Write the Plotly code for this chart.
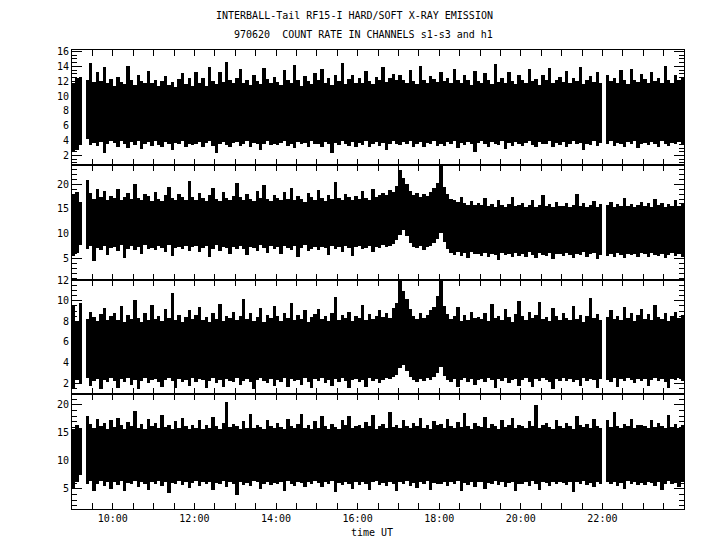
import plotly.graph_objects as go
from plotly.subplots import make_subplots

# ---------------- data (5-minute bins from 09:00 to 24:00 UT, envelope lo/hi) -------------
start_hour = 9.0
bin_minutes = 5

s1_hi = [
    11.8, 12.4, 12.6, None, 12.2, 14.5, 11.9, 13.2, 12.0, 13.9, 11.7, 12.3,
    11.4, 12.6, 11.9, 11.6, 14.0, 12.1, 11.5, 12.8, 12.0, 11.7, 13.4, 11.8,
    12.2, 11.4, 12.0, 12.7, 11.5, 11.9, 11.2, 12.3, 13.1, 11.6, 12.4, 11.3,
    13.2, 11.8, 12.5, 11.4, 13.9, 12.0, 11.6, 13.3, 11.9, 14.6, 12.1, 11.7,
    12.4, 13.6, 11.8, 12.2, 11.5, 12.9, 12.0, 11.6, 13.8, 12.3, 11.8, 12.6,
    11.9, 11.5, 13.5, 12.1, 11.7, 14.2, 12.2, 11.4, 12.7, 12.0, 11.6, 13.1,
    12.1, 13.7, 11.8, 12.4, 11.5, 12.8, 12.0, 14.4, 11.6, 12.3, 12.9, 11.8,
    12.4, 11.7, 13.4, 12.0, 11.6, 12.6, 12.2, 13.9, 11.9, 12.5, 13.0, 12.1,
    12.8, 12.2, 11.8, 13.5, 12.0, 11.6, 14.0, 12.1, 11.7, 12.7, 12.3, 11.9,
    13.3, 12.0, 12.5, 11.7, 13.7, 12.1, 11.8, 12.9, 12.2, 11.5, 13.4, 12.0,
    11.7, 13.1, 12.2, 11.6, 14.3, 11.9, 12.4, 11.8, 13.3, 12.0, 11.6, 12.8,
    12.1, 11.7, 13.6, 12.0, 12.3, 11.5, 12.9, 12.1, 13.8, 11.8, 12.2, 12.6,
    11.9, 13.4, 11.7, 12.4, 12.0, 13.9, 11.6, 12.2, 12.7, 11.9, 13.2, 11.8,
    None, 12.8, 12.0, 12.5, 11.8, 13.5, 12.1, 11.6, 13.7, 12.2, 11.9, 13.0,
    12.3, 11.7, 13.3, 12.0, 12.5, 11.8, 14.0, 12.1, 11.7, 12.8, 12.2, 12.4,
]
s1_lo = [
    2.6, 2.8, 3.4, None, 4.2, 3.4, 3.7, 3.3, 3.8, 2.4, 3.6, 3.9,
    3.7, 3.2, 3.9, 3.5, 3.0, 3.8, 3.4, 3.9, 2.9, 3.6, 3.8, 3.3,
    3.9, 3.4, 3.1, 3.8, 3.6, 2.8, 3.7, 3.5, 3.9, 3.2, 3.6, 3.4,
    3.5, 3.8, 3.2, 3.7, 3.9, 3.3, 2.3, 3.6, 3.8, 3.4, 3.1, 3.7,
    3.8, 3.3, 3.6, 3.9, 3.2, 3.7, 3.5, 2.8, 3.6, 3.9, 3.4, 3.6,
    3.4, 3.7, 3.9, 3.3, 3.6, 3.0, 3.8, 3.5, 3.7, 3.2, 3.9, 3.5,
    3.6, 3.2, 3.8, 3.5, 2.4, 3.7, 3.4, 3.9, 3.6, 3.3, 3.8, 3.1,
    3.7, 3.4, 3.9, 3.2, 3.6, 3.8, 3.3, 3.7, 2.7, 3.5, 3.9, 3.6,
    3.4, 3.8, 3.5, 3.9, 3.2, 3.6, 3.8, 3.1, 3.7, 3.5, 3.9, 3.3,
    3.6, 3.3, 3.8, 3.5, 3.9, 3.0, 3.7, 3.4, 3.8, 3.6, 2.5, 3.7,
    3.9, 3.5, 3.2, 3.8, 3.6, 3.4, 3.9, 2.9, 3.7, 3.3, 3.8, 3.5,
    3.3, 3.7, 3.9, 3.4, 3.1, 3.8, 3.6, 3.5, 3.9, 3.2, 3.7, 3.4,
    3.8, 3.2, 3.6, 3.9, 3.5, 3.7, 2.8, 3.6, 3.4, 3.9, 3.3, 3.7,
    None, 3.5, 3.9, 3.3, 3.7, 3.6, 3.2, 3.8, 3.5, 3.9, 3.0, 3.6,
    3.7, 3.4, 3.8, 3.5, 3.2, 3.9, 3.6, 3.3, 3.7, 3.5, 3.8, 3.4,
]

s2_hi = [
    17.8, 18.5, 16.5, None, 20.8, 18.2, 17.0, 19.1, 17.4, 18.6, 16.9, 17.6,
    17.2, 19.0, 16.8, 17.5, 18.3, 17.0, 20.1, 17.3, 16.9, 18.0, 17.6, 16.7,
    18.4, 17.1, 16.6, 17.9, 19.5, 17.2, 16.8, 18.1, 17.4, 16.9, 20.6, 17.5,
    16.9, 18.2, 17.3, 16.7, 17.8, 19.2, 17.0, 16.6, 18.5, 17.2, 16.8, 17.7,
    20.2, 17.4, 16.9, 18.0, 17.1, 16.7, 18.7, 17.3, 19.8, 17.0, 16.6, 17.9,
    17.3, 16.8, 18.4, 17.1, 19.3, 16.9, 17.6, 17.0, 16.5, 18.2, 17.4, 16.8,
    18.9, 17.2, 16.7, 17.8, 17.0, 20.4, 17.3, 16.8, 18.1, 17.5, 16.9, 17.6,
    17.1, 18.6, 17.3, 16.9, 19.0, 17.4, 17.8, 18.3, 17.9, 18.8, 18.4, 19.6,
    22.9, 21.3, 20.1, 18.6, 17.9, 18.2, 17.5, 18.0, 17.6, 18.4, 19.2, 20.3,
    23.8, 19.5, 18.0, 17.1, 16.8, 16.4, 17.5, 16.2, 15.9, 16.6, 15.8, 16.3,
    15.9, 17.2, 15.7, 16.1, 15.5, 16.8, 15.8, 15.4, 16.0, 17.5, 15.6, 15.9,
    16.2, 15.5, 15.8, 16.9, 15.4, 15.9, 17.8, 15.6, 16.1, 15.5, 16.4, 15.7,
    15.6, 16.3, 15.4, 15.9, 18.0, 15.7, 16.2, 15.5, 15.8, 16.6, 15.4, 16.0,
    None, 15.8, 16.4, 15.5, 16.0, 15.6, 17.2, 15.7, 16.1, 15.4, 15.9, 16.5,
    15.6, 16.2, 15.5, 17.0, 15.8, 16.3, 15.5, 16.0, 15.7, 16.8, 15.6, 16.1,
]
s2_lo = [
    5.5, 6.2, 7.8, None, 6.9, 7.5, 4.5, 7.2, 6.8, 7.6, 5.8, 7.1,
    7.4, 6.6, 7.8, 5.2, 7.0, 7.5, 6.7, 7.3, 5.9, 7.7, 6.9, 7.2,
    6.8, 7.5, 7.1, 6.4, 7.8, 5.6, 7.2, 7.4, 6.9, 7.6, 6.5, 7.3,
    7.6, 6.3, 7.2, 7.5, 5.4, 7.0, 7.7, 6.6, 7.3, 7.1, 5.9, 7.4,
    6.9, 7.6, 7.0, 5.7, 7.4, 7.2, 6.5, 7.8, 7.1, 6.2, 7.5, 7.0,
    7.3, 6.0, 7.6, 7.2, 6.8, 7.5, 5.3, 7.1, 7.7, 6.6, 7.0, 7.4,
    6.7, 7.4, 7.1, 5.8, 7.6, 7.0, 7.3, 6.4, 7.5, 7.2, 5.5, 7.3,
    7.5, 6.9, 7.2, 7.6, 6.3, 7.4, 7.1, 7.7, 7.3, 7.6, 8.0, 8.8,
    9.8, 10.8, 9.6, 8.2, 7.4, 7.1, 7.5, 6.8, 7.3, 7.6, 8.1, 9.0,
    10.3, 8.4, 6.9, 6.2, 5.8, 6.4, 5.5, 6.1, 5.2, 6.3, 5.9, 6.0,
    5.6, 6.2, 5.3, 6.0, 5.8, 4.8, 6.1, 5.7, 5.9, 5.4, 6.2, 5.5,
    6.0, 5.4, 6.3, 5.7, 5.1, 6.1, 5.8, 5.5, 6.2, 4.9, 5.9, 6.0,
    5.5, 6.1, 5.8, 5.2, 6.0, 5.7, 6.3, 5.4, 5.9, 6.1, 5.0, 5.8,
    None, 5.6, 6.0, 5.4, 6.2, 5.8, 5.1, 6.0, 5.7, 5.9, 5.3, 6.1,
    5.9, 5.3, 6.1, 5.7, 5.5, 6.0, 5.2, 5.8, 6.2, 5.6, 5.9, 5.4,
]

s3_hi = [
    9.6, 8.0, 9.8, None, 8.3, 9.0, 8.5, 8.1, 8.8, 9.3, 8.2, 8.6,
    8.9, 8.2, 9.5, 8.0, 8.7, 8.3, 10.1, 8.4, 8.0, 8.9, 8.2, 9.6,
    8.3, 8.6, 8.1, 9.2, 8.4, 10.8, 8.2, 8.7, 8.0, 8.5, 9.1, 8.3,
    8.7, 9.4, 8.2, 8.5, 8.0, 8.9, 8.3, 9.7, 8.1, 8.6, 8.4, 9.0,
    8.2, 8.6, 10.2, 8.3, 8.9, 8.1, 8.5, 9.3, 8.0, 8.7, 8.4, 9.5,
    8.6, 8.1, 8.9, 8.4, 9.8, 8.2, 8.7, 8.3, 9.1, 8.0, 8.5, 8.8,
    9.2, 8.3, 8.6, 8.1, 8.9, 10.4, 8.2, 8.7, 8.4, 9.0, 8.1, 8.6,
    8.4, 9.6, 8.2, 8.8, 8.3, 8.6, 9.1, 8.5, 8.9, 8.4, 9.3, 9.8,
    12.1, 11.0, 10.2, 9.2, 8.6, 8.3, 8.9, 8.4, 8.7, 9.1, 9.4, 10.5,
    12.0, 9.5, 8.8, 8.3, 8.6, 9.4, 8.1, 8.7, 8.2, 9.0, 8.4, 8.5,
    8.3, 8.9, 8.1, 9.7, 8.4, 8.6, 8.2, 9.2, 8.5, 8.0, 8.8, 10.0,
    8.6, 8.2, 9.0, 8.4, 8.7, 9.9, 8.3, 8.5, 8.1, 9.3, 8.6, 8.2,
    8.9, 8.4, 8.2, 9.5, 8.3, 8.7, 8.0, 8.6, 10.3, 8.4, 8.8, 8.2,
    None, 8.5, 9.1, 8.3, 8.6, 8.2, 9.4, 8.4, 8.9, 8.1, 8.7, 9.2,
    8.3, 8.8, 8.2, 9.6, 8.5, 8.3, 8.9, 8.1, 8.6, 9.0, 8.4, 8.7,
]
s3_lo = [
    1.6, 2.4, 2.0, None, 2.6, 1.8, 2.3, 2.5, 1.5, 2.4, 2.2, 2.6,
    2.3, 1.6, 2.5, 2.2, 2.6, 1.9, 2.4, 1.5, 2.3, 2.6, 2.1, 2.4,
    2.5, 2.2, 1.7, 2.4, 2.6, 2.3, 1.6, 2.5, 2.2, 2.4, 1.8, 2.6,
    2.2, 2.5, 2.4, 1.6, 2.3, 2.6, 2.1, 2.4, 1.7, 2.5, 2.3, 2.2,
    2.6, 1.9, 2.3, 2.5, 2.2, 1.5, 2.4, 2.6, 2.3, 2.1, 2.5, 1.8,
    2.4, 2.2, 2.6, 1.7, 2.5, 2.3, 2.4, 1.9, 2.6, 2.2, 1.6, 2.5,
    2.3, 2.6, 2.1, 2.4, 1.8, 2.5, 2.2, 2.6, 2.3, 1.6, 2.4, 2.5,
    2.2, 2.4, 1.7, 2.6, 2.3, 2.5, 2.1, 2.4, 2.6, 2.5, 2.7, 2.9,
    3.5, 3.8, 3.2, 2.7, 2.4, 2.2, 2.5, 2.3, 2.6, 2.4, 2.7, 3.0,
    3.6, 2.8, 2.4, 2.2, 2.5, 1.7, 2.4, 2.6, 2.2, 2.5, 1.9, 2.4,
    2.5, 2.2, 2.6, 2.4, 1.6, 2.5, 2.3, 2.6, 2.1, 2.4, 2.5, 1.8,
    2.4, 2.6, 2.2, 1.7, 2.5, 2.3, 2.6, 2.4, 2.2, 1.5, 2.5, 2.3,
    2.6, 2.3, 2.5, 2.2, 2.4, 1.8, 2.6, 2.3, 2.5, 2.4, 1.6, 2.5,
    None, 2.4, 2.2, 2.6, 1.7, 2.5, 2.3, 2.6, 2.4, 2.1, 2.5, 2.3,
    2.5, 1.8, 2.4, 2.6, 2.3, 2.5, 2.2, 1.6, 2.5, 2.4, 2.6, 2.3,
]

h1_hi = [
    15.6, 16.4, 15.9, None, 18.0, 16.6, 15.8, 17.4, 16.2, 16.8, 15.7, 17.3,
    16.0, 17.7, 16.3, 15.6, 16.9, 16.1, 18.8, 15.9, 16.5, 15.7, 17.5, 16.2,
    16.7, 15.8, 18.1, 16.0, 16.3, 15.6, 17.0, 15.9, 17.6, 16.2, 15.7, 16.4,
    15.9, 17.2, 15.7, 16.3, 15.8, 17.8, 16.1, 15.6, 16.7, 20.4, 16.0, 16.5,
    16.2, 15.7, 17.1, 15.9, 18.3, 15.8, 16.4, 16.0, 15.6, 17.3, 16.1, 15.8,
    16.8, 16.0, 15.6, 17.5, 16.2, 15.8, 16.6, 18.4, 15.9, 16.3, 15.7, 17.0,
    15.8, 17.9, 16.1, 15.7, 16.5, 16.0, 15.6, 17.2, 16.3, 18.0, 15.9, 16.2,
    16.3, 15.8, 16.9, 16.1, 18.2, 15.7, 16.2, 16.6, 15.9, 18.6, 16.0, 16.4,
    15.9, 17.3, 16.2, 15.8, 16.7, 16.1, 17.7, 15.9, 16.4, 15.7, 17.1, 16.3,
    16.6, 15.9, 17.4, 16.2, 15.8, 16.9, 16.0, 18.5, 16.1, 15.7, 16.8, 16.2,
    16.0, 17.8, 15.9, 16.5, 16.2, 15.7, 17.2, 16.0, 16.3, 17.6, 15.8, 16.4,
    16.2, 15.8, 17.0, 16.1, 20.0, 15.9, 16.3, 16.7, 16.0, 15.6, 17.3, 16.1,
    15.9, 16.8, 16.2, 15.7, 17.9, 16.3, 16.0, 16.5, 15.8, 17.4, 16.1, 15.9,
    None, 17.2, 16.0, 18.7, 16.2, 15.9, 16.6, 16.1, 17.5, 15.8, 16.3, 16.4,
    16.1, 15.8, 17.3, 16.0, 16.7, 16.2, 15.9, 18.1, 16.0, 16.5, 15.8, 16.3,
]
h1_lo = [
    5.0, 6.2, 7.4, None, 5.8, 6.3, 4.6, 5.9, 6.4, 5.5, 6.1, 4.9,
    6.2, 5.7, 6.4, 4.5, 6.0, 5.8, 6.3, 5.2, 6.1, 5.9, 4.8, 6.2,
    5.9, 6.3, 5.4, 6.1, 4.3, 6.0, 5.8, 6.4, 5.6, 6.2, 5.1, 6.0,
    6.3, 5.5, 6.1, 5.9, 6.2, 4.7, 6.0, 5.8, 6.3, 5.3, 6.1, 5.9,
    3.8, 6.2, 5.7, 6.0, 5.4, 6.3, 6.1, 4.9, 5.9, 6.2, 5.6, 6.0,
    5.8, 6.1, 4.6, 6.3, 5.9, 5.5, 6.2, 6.0, 5.2, 6.1, 5.8, 6.3,
    6.0, 5.3, 6.2, 5.9, 6.3, 4.4, 6.0, 5.7, 6.2, 5.9, 5.0, 6.1,
    5.7, 6.2, 5.9, 4.8, 6.1, 6.3, 5.6, 6.0, 5.4, 6.2, 5.9, 4.6,
    6.1, 5.8, 6.3, 5.5, 6.0, 5.1, 6.2, 5.9, 6.3, 4.7, 6.0, 5.8,
    5.9, 6.2, 5.4, 6.1, 5.8, 6.3, 4.5, 6.0, 5.7, 6.2, 5.3, 6.1,
    6.2, 4.9, 6.0, 5.8, 6.3, 5.6, 6.1, 5.2, 6.0, 6.2, 4.6, 5.9,
    5.8, 6.1, 5.5, 6.3, 5.9, 4.8, 6.2, 6.0, 5.4, 6.1, 5.8, 6.2,
    6.0, 5.6, 6.2, 4.4, 6.1, 5.9, 6.3, 5.7, 6.0, 5.3, 6.2, 5.8,
    None, 6.1, 5.8, 6.2, 5.5, 6.0, 4.9, 6.3, 5.9, 6.1, 5.6, 6.0,
    5.7, 6.2, 6.0, 5.4, 6.1, 4.7, 5.9, 6.3, 5.8, 6.0, 5.2, 6.1,
]

x_tick_values = [10, 12, 14, 16, 18, 20, 22]
x_tick_labels = ["10:00", "12:00", "14:00", "16:00", "18:00", "20:00", "22:00"]

title_line1 = "INTERBALL-Tail RF15-I HARD/SOFT X-RAY EMISSION"
title_line2 = "970620  COUNT RATE IN CHANNELS s1-s3 and h1"
x_title = "time UT"

panels = [
    (s1_hi, s1_lo),
    (s2_hi, s2_lo),
    (s3_hi, s3_lo),
    (h1_hi, h1_lo),
]

# ---------------- styling ------------------------------------------------------------
FONT = dict(family="DejaVu Sans Mono", size=10, color="black")
y_ranges = [[0.76, 16.2], [0.78, 23.9], [0.94, 12.05], [1.4, 21.9]]
y_dticks = [2, 5, 2, 5]
y_minor = [0.5, 1, 0.5, 1]
domains = [[0.75, 1.0], [0.5, 0.75], [0.25, 0.5], [0.0, 0.25]]

n_bins = len(s1_hi)
for hi, lo in panels:
    assert len(hi) == n_bins and len(lo) == n_bins
bin_h = bin_minutes / 60.0
times = [start_hour + (i + 0.5) * bin_h for i in range(n_bins)]

fig = make_subplots(rows=4, cols=1, shared_xaxes=True, vertical_spacing=0)

for r, (hi, lo) in enumerate(panels, start=1):
    heights = [None if (h is None or l is None) else h - l for h, l in zip(hi, lo)]
    fig.add_trace(
        go.Bar(
            x=times, y=heights, base=lo, width=bin_h * 1.04,
            marker=dict(color="black", line=dict(width=0)),
            hoverinfo="skip",
        ),
        row=r, col=1,
    )

for r in range(1, 5):
    xa = "xaxis" if r == 1 else f"xaxis{r}"
    ya = "yaxis" if r == 1 else f"yaxis{r}"
    fig.layout[xa].update(
        range=[9, 24], showline=True, linecolor="black", linewidth=1,
        mirror="allticks", ticks="inside", ticklen=6, tickwidth=1, tickcolor="black",
        tickmode="array", tickvals=x_tick_values, ticktext=x_tick_labels,
        showticklabels=(r == 4), tickfont=FONT, automargin=False,
        minor=dict(tickmode="linear", tick0=9, dtick=0.5, ticks="inside",
                   ticklen=6, tickwidth=1, tickcolor="black", showgrid=False),
        showgrid=False, zeroline=False,
    )
    fig.layout[ya].update(
        domain=domains[r - 1], range=y_ranges[r - 1],
        showline=True, linecolor="black", linewidth=1, mirror="allticks",
        ticks="inside", ticklen=10, tickwidth=1, tickcolor="black",
        tickmode="linear", tick0=0, dtick=y_dticks[r - 1], tickfont=FONT,
        automargin=False,
        minor=dict(tickmode="linear", tick0=0, dtick=y_minor[r - 1], ticks="inside",
                   ticklen=5, tickwidth=1, tickcolor="black", showgrid=False),
        showgrid=False, zeroline=False,
    )

fig.add_annotation(text=title_line1, xref="paper", yref="paper", x=0.4616, y=1.076,
                   xanchor="center", yanchor="middle", showarrow=False, font=FONT)
fig.add_annotation(text=title_line2, xref="paper", yref="paper", x=0.4755, y=1.033,
                   xanchor="center", yanchor="middle", showarrow=False, font=FONT)
fig.add_annotation(text=x_title, xref="paper", yref="paper", x=0.49, y=-0.052,
                   xanchor="center", yanchor="middle", showarrow=False, font=FONT)

# the page body adds an 8px offset, so margins are shifted to land the plot area
# at the reference position (x 72-684, y 50-509 in the window)
fig.update_layout(
    width=720, height=550,
    margin=dict(l=64, r=44, t=42, b=49),
    paper_bgcolor="white", plot_bgcolor="white",
    showlegend=False, bargap=0, barmode="overlay",
    font=FONT,
)

fig.write_html("out.html")
